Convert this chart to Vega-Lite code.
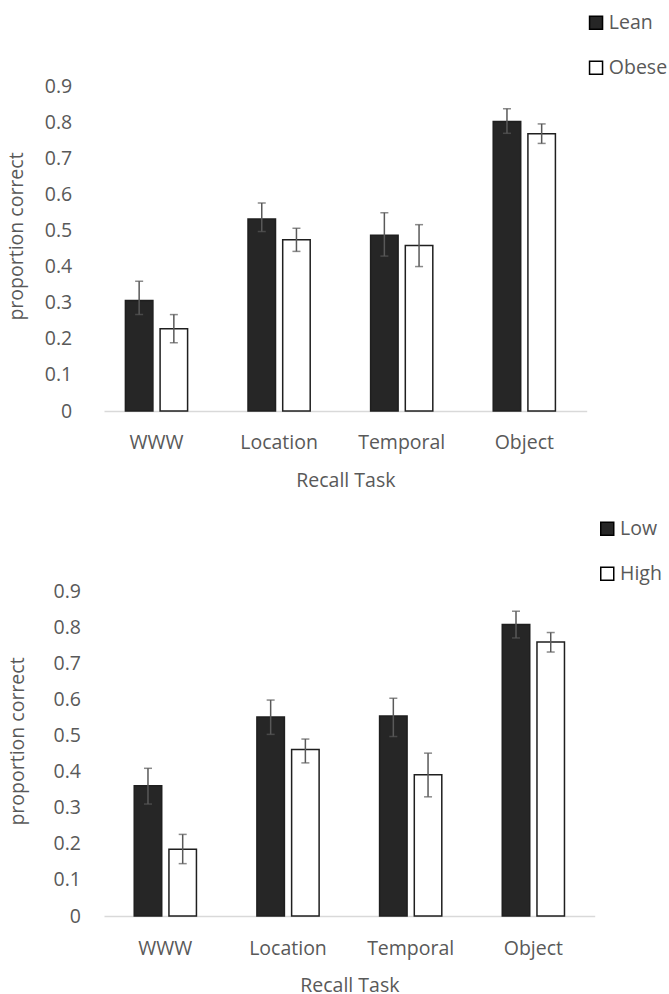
{
  "$schema": "https://vega.github.io/schema/vega-lite/v6.json",
  "autosize": {"type": "pad"},
  "padding": {"left": 6, "top": 13, "right": 0, "bottom": 0},
  "background": "white",
  "config": {
    "font": "Open Sans",
    "view": {"stroke": null},
    "axis": {
      "labelFont": "Open Sans", "labelFontSize": 19.5, "labelColor": "#595959",
      "titleFont": "Open Sans", "titleFontSize": 19.5, "titleColor": "#595959", "titleFontWeight": "normal",
      "grid": false, "ticks": false, "labelOverlap": false, "labelSeparation": 0
    },
    "legend": {
      "labelFont": "Open Sans", "labelFontSize": 19.5, "labelColor": "#595959",
      "symbolType": "square", "symbolSize": 169, "symbolStrokeColor": "#000000", "symbolStrokeWidth": 1.5,
      "labelOffset": 3, "rowPadding": 24, "padding": 0
    }
  },
  "spacing": 29,
  "resolve": {"scale": {"fill": "independent", "xOffset": "independent", "x": "independent", "y": "independent"}, "legend": {"fill": "independent"}},
  "vconcat": [
    {
      "width": 482.7,
      "height": 325,
      "data": {"values": [
        {"task": "WWW", "group": "Lean", "value": 0.306, "lo": 0.267, "hi": 0.359},
        {"task": "WWW", "group": "Obese", "value": 0.228, "lo": 0.189, "hi": 0.267},
        {"task": "Location", "group": "Lean", "value": 0.532, "lo": 0.497, "hi": 0.576},
        {"task": "Location", "group": "Obese", "value": 0.474, "lo": 0.442, "hi": 0.506},
        {"task": "Temporal", "group": "Lean", "value": 0.487, "lo": 0.429, "hi": 0.549},
        {"task": "Temporal", "group": "Obese", "value": 0.458, "lo": 0.400, "hi": 0.516},
        {"task": "Object", "group": "Lean", "value": 0.802, "lo": 0.769, "hi": 0.837},
        {"task": "Object", "group": "Obese", "value": 0.768, "lo": 0.741, "hi": 0.795}
      ]},
      "encoding": {
        "x": {
          "field": "task", "type": "nominal", "sort": ["WWW", "Location", "Temporal", "Object"],
          "scale": {"paddingInner": 0.483, "paddingOuter": 0.21, "align": 0.404},
          "axis": {"title": "Recall Task", "labelAngle": 0, "domainColor": "#d9d9d9", "domainWidth": 1.5, "labelPadding": 22, "titlePadding": 20}
        },
        "xOffset": {"field": "group", "type": "nominal", "sort": ["Lean", "Obese"], "scale": {"domain": ["Lean", "Obese"], "paddingInner": 0.173, "paddingOuter": 0}}
      },
      "layer": [
        {
          "mark": {"type": "bar", "stroke": "#1f1f1f", "strokeWidth": 1.5, "width": 27.5},
          "encoding": {
            "y": {
              "field": "value", "type": "quantitative", "title": "proportion correct",
              "scale": {"domain": [0, 0.9], "nice": false},
              "axis": {"values": [0, 0.1, 0.2, 0.3, 0.4, 0.5, 0.6, 0.7, 0.8, 0.9], "format": ".1~f", "domain": false, "labelOverlap": false, "labelPadding": 32.3, "titlePadding": 18, "titleY": 150}
            },
            "fill": {
              "field": "group", "type": "nominal",
              "scale": {"domain": ["Lean", "Obese"], "range": ["#262626", "#ffffff"]},
              "legend": {"title": null, "orient": "none", "legendX": 482.3, "legendY": -73, "direction": "vertical"}
            }
          }
        },
        {
          "mark": {"type": "rule", "color": "#595959", "strokeWidth": 1.5},
          "encoding": {
            "y": {"field": "lo", "type": "quantitative", "title": "proportion correct", "scale": {"domain": [0, 0.9], "nice": false},
              "axis": {"values": [0, 0.1, 0.2, 0.3, 0.4, 0.5, 0.6, 0.7, 0.8, 0.9], "format": ".1~f", "domain": false, "labelOverlap": false, "labelPadding": 32.3, "titlePadding": 18, "titleY": 150}},
            "y2": {"field": "hi"}
          }
        },
        {
          "mark": {"type": "tick", "color": "#595959", "thickness": 1.5, "size": 8},
          "encoding": {"y": {"field": "lo", "type": "quantitative", "title": "proportion correct", "scale": {"domain": [0, 0.9], "nice": false},
              "axis": {"values": [0, 0.1, 0.2, 0.3, 0.4, 0.5, 0.6, 0.7, 0.8, 0.9], "format": ".1~f", "domain": false, "labelOverlap": false, "labelPadding": 32.3, "titlePadding": 18, "titleY": 150}}}
        },
        {
          "mark": {"type": "tick", "color": "#595959", "thickness": 1.5, "size": 8},
          "encoding": {"y": {"field": "hi", "type": "quantitative", "title": "proportion correct", "scale": {"domain": [0, 0.9], "nice": false},
              "axis": {"values": [0, 0.1, 0.2, 0.3, 0.4, 0.5, 0.6, 0.7, 0.8, 0.9], "format": ".1~f", "domain": false, "labelOverlap": false, "labelPadding": 32.3, "titlePadding": 18, "titleY": 150}}}
        }
      ]
    },
    {
      "width": 490.7,
      "height": 325,
      "data": {"values": [
        {"task": "WWW", "group": "Low", "value": 0.361, "lo": 0.310, "hi": 0.409},
        {"task": "WWW", "group": "High", "value": 0.185, "lo": 0.145, "hi": 0.226},
        {"task": "Location", "group": "Low", "value": 0.551, "lo": 0.503, "hi": 0.598},
        {"task": "Location", "group": "High", "value": 0.461, "lo": 0.424, "hi": 0.490},
        {"task": "Temporal", "group": "Low", "value": 0.554, "lo": 0.497, "hi": 0.603},
        {"task": "Temporal", "group": "High", "value": 0.391, "lo": 0.330, "hi": 0.451},
        {"task": "Object", "group": "Low", "value": 0.807, "lo": 0.770, "hi": 0.844},
        {"task": "Object", "group": "High", "value": 0.759, "lo": 0.731, "hi": 0.785}
      ]},
      "encoding": {
        "x": {
          "field": "task", "type": "nominal", "sort": ["WWW", "Location", "Temporal", "Object"],
          "scale": {"paddingInner": 0.483, "paddingOuter": 0.2415},
          "axis": {"title": "Recall Task", "labelAngle": 0, "domainColor": "#d9d9d9", "domainWidth": 1.5, "labelPadding": 23, "titlePadding": 19}
        },
        "xOffset": {"field": "group", "type": "nominal", "sort": ["Low", "High"], "scale": {"domain": ["Low", "High"], "paddingInner": 0.173, "paddingOuter": 0}}
      },
      "layer": [
        {
          "mark": {"type": "bar", "stroke": "#1f1f1f", "strokeWidth": 1.5, "width": 27.5},
          "encoding": {
            "y": {
              "field": "value", "type": "quantitative", "title": "proportion correct",
              "scale": {"domain": [0, 0.9], "nice": false},
              "axis": {"tickCount": 9, "format": ".1~f", "domain": false, "labelOverlap": false, "labelPadding": 23.6, "titlePadding": 25.7, "titleY": 150}
            },
            "fill": {
              "field": "group", "type": "nominal",
              "scale": {"domain": ["Low", "High"], "range": ["#262626", "#ffffff"]},
              "legend": {"title": null, "orient": "none", "legendX": 493.5, "legendY": -72, "direction": "vertical"}
            }
          }
        },
        {
          "mark": {"type": "rule", "color": "#595959", "strokeWidth": 1.5},
          "encoding": {
            "y": {"field": "lo", "type": "quantitative", "title": "proportion correct", "scale": {"domain": [0, 0.9], "nice": false},
              "axis": {"tickCount": 9, "format": ".1~f", "domain": false, "labelOverlap": false, "labelPadding": 23.6, "titlePadding": 25.7, "titleY": 150}},
            "y2": {"field": "hi"}
          }
        },
        {
          "mark": {"type": "tick", "color": "#595959", "thickness": 1.5, "size": 8},
          "encoding": {"y": {"field": "lo", "type": "quantitative", "title": "proportion correct", "scale": {"domain": [0, 0.9], "nice": false},
              "axis": {"tickCount": 9, "format": ".1~f", "domain": false, "labelOverlap": false, "labelPadding": 23.6, "titlePadding": 25.7, "titleY": 150}}}
        },
        {
          "mark": {"type": "tick", "color": "#595959", "thickness": 1.5, "size": 8},
          "encoding": {"y": {"field": "hi", "type": "quantitative", "title": "proportion correct", "scale": {"domain": [0, 0.9], "nice": false},
              "axis": {"tickCount": 9, "format": ".1~f", "domain": false, "labelOverlap": false, "labelPadding": 23.6, "titlePadding": 25.7, "titleY": 150}}}
        }
      ]
    }
  ]
}
